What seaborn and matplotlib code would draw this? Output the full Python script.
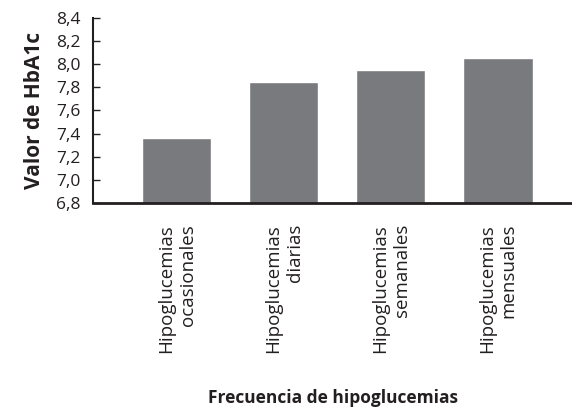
import numpy as np
import pandas as pd
import matplotlib
matplotlib.use("Agg")
import matplotlib.pyplot as plt
import seaborn as sns
from matplotlib.ticker import FuncFormatter, MultipleLocator

# datos
categorias = ["Hipoglucemias\nocasionales", "Hipoglucemias\ndiarias",
              "Hipoglucemias\nsemanales", "Hipoglucemias\nmensuales"]
hba1c = [7.36, 7.85, 7.95, 8.05]

df = pd.DataFrame({"frecuencia": categorias, "hba1c": hba1c})

sns.set_style("white")
plt.rcParams["font.family"] = ["Open Sans", "DejaVu Sans"]

fig = plt.figure(figsize=(5.72, 4.16), dpi=100)
ax = fig.add_axes([0.163, 0.512, 0.835, 0.445])

sns.barplot(data=df, x="frecuencia", y="hba1c", color="#797a7e",
            saturation=1, width=0.645, ax=ax)

ax.set_ylim(6.8, 8.4)
ax.set_xlim(-0.78, 3.68)
ax.yaxis.set_major_locator(MultipleLocator(0.2))
ax.yaxis.set_major_formatter(FuncFormatter(lambda v, p: f"{v:.1f}".replace(".", ",")))
ax.tick_params(axis="y", direction="in", length=5, width=1, color="#231f20",
               labelsize=12.5, pad=9, left=True, labelcolor="#231f20")
ax.tick_params(axis="x", length=0, pad=15)

for lbl in ax.get_xticklabels():
    lbl.set_rotation(90)
    lbl.set_va("top")
    lbl.set_ha("center")
    lbl.set_multialignment("right")
    lbl.set_fontsize(13.5)
    lbl.set_linespacing(1.25)
    lbl.set_color("#231f20")

for s in ["top", "right"]:
    ax.spines[s].set_visible(False)
ax.spines["left"].set_color("#231f20")
ax.spines["left"].set_linewidth(1.5)
ax.spines["bottom"].set_color("#231f20")
ax.spines["bottom"].set_linewidth(2)

ax.set_ylabel("Valor de HbA1c", fontsize=15, fontweight="bold", color="#231f20", labelpad=8)
ax.set_xlabel("")
fig.text(0.582, 0.022, "Frecuencia de hipoglucemias", ha="center", va="bottom",
         fontsize=12.5, fontweight="bold", color="#231f20")

fig.savefig("out.png", dpi=100)
